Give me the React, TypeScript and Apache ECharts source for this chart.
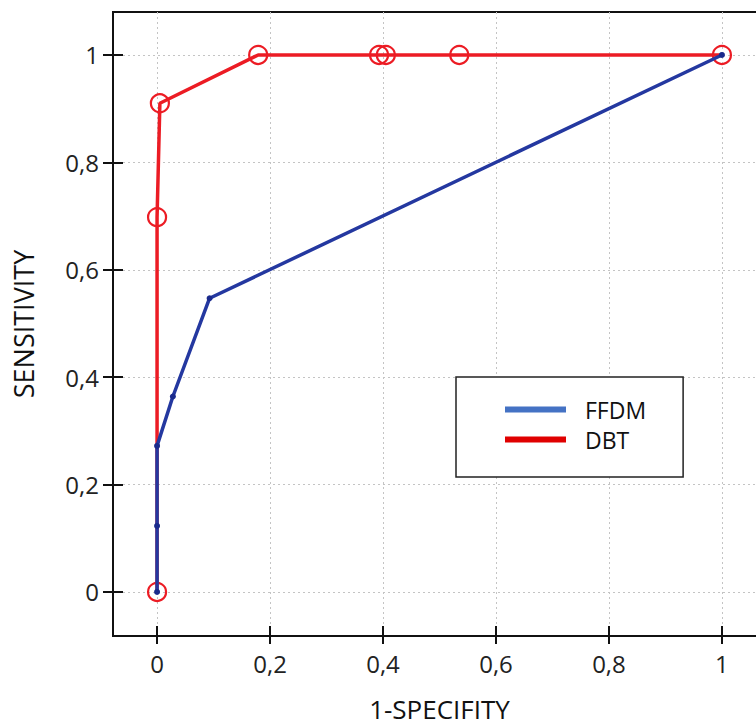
import React, { useEffect, useRef } from "react";
import * as echarts from "echarts";

const X_TICKS = [0, 0.2, 0.4, 0.6, 0.8, 1];
const Y_TICKS = [0, 0.2, 0.4, 0.6, 0.8, 1];
const FFDM_X = [0, 0, 0, 0.028, 0.093, 1];
const FFDM_Y = [0, 0.123, 0.272, 0.364, 0.547, 1];
const DBT_X = [0, 0, 0.005, 0.179, 0.393, 0.405, 0.535, 1];
const DBT_Y = [0, 0.698, 0.91, 1, 1, 1, 1, 1];

const FONT = "'Open Sans', 'Noto Sans', sans-serif";
const fmt = (v: number) => String(v).replace(".", ",");

export default function App() {
  const ref = useRef<HTMLDivElement>(null);
  useEffect(() => {
    if (!ref.current) return;
    const chart = echarts.init(ref.current, null, { renderer: "svg" });
    const X_MIN = -0.078, X_MAX = 1.078, Y_MIN = -0.082, Y_MAX = 1.08;
    const grid = "#c4c4c4";
    const baseX = {
      type: "value" as const,
      min: X_MIN,
      max: X_MAX,
      position: "bottom" as const,
    };
    const baseY = {
      type: "value" as const,
      min: Y_MIN,
      max: Y_MAX,
      position: "left" as const,
    };
    chart.setOption({
      animation: false,
      backgroundColor: "#ffffff",
      grid: {
        left: 113,
        top: 12,
        right: -10,
        bottom: 90,
        outerBoundsMode: "none",
        containLabel: false,
        show: true,
        borderColor: "#111",
        borderWidth: 2,
        backgroundColor: "transparent",
      },
      xAxis: [
        {
          ...baseX,
          name: "1-SPECIFITY",
          nameLocation: "middle",
          nameGap: 59,
          nameTextStyle: { fontFamily: FONT, fontSize: 26, lineHeight: 28, color: "#111" },
          axisLine: { onZero: false, lineStyle: { color: "#111", width: 2 } },
          axisTick: { customValues: X_TICKS, length: 8, lineStyle: { color: "#111", width: 2 } },
          axisLabel: {
            customValues: X_TICKS,
            formatter: fmt,
            margin: 15,
            fontFamily: FONT,
            fontSize: 24,
            lineHeight: 24,
            color: "#222",
          },
          splitLine: { show: true, lineStyle: { color: grid, type: [2, 3], width: 1 } },
        },
        {
          ...baseX,
          axisLine: { show: false, onZero: false },
          axisTick: { inside: true, customValues: X_TICKS, length: 10, lineStyle: { color: "#111", width: 2 } },
          axisLabel: { show: false },
          splitLine: { show: false },
        },
      ],
      yAxis: [
        {
          ...baseY,
          name: "SENSITIVITY",
          nameLocation: "middle",
          nameGap: 76,
          nameTextStyle: { fontFamily: FONT, fontSize: 27, color: "#111" },
          axisLine: { onZero: false, lineStyle: { color: "#111", width: 2 } },
          axisTick: { customValues: Y_TICKS, length: 10, lineStyle: { color: "#111", width: 2 } },
          axisLabel: {
            customValues: Y_TICKS,
            formatter: fmt,
            margin: 14,
            fontFamily: FONT,
            fontSize: 24,
            color: "#222",
          },
          splitLine: { show: true, lineStyle: { color: grid, type: [2, 3], width: 1 } },
        },
        {
          ...baseY,
          axisLine: { show: false, onZero: false },
          axisTick: { inside: true, customValues: Y_TICKS, length: 10, lineStyle: { color: "#111", width: 2 } },
          axisLabel: { show: false },
          splitLine: { show: false },
        },
      ],
      legend: {
        orient: "vertical",
        left: 456,
        top: 377,
        padding: [21, 37, 26, 49],
        itemGap: 7,
        itemWidth: 61,
        itemHeight: 6,
        icon: "rect",
        borderColor: "#222",
        borderWidth: 1.5,
        backgroundColor: "#fff",
        textStyle: {
          fontFamily: FONT,
          fontSize: 23,
          lineHeight: 23,
          color: "#111",
          padding: [0, 0, 0, 14],
        },
        data: [
          { name: "FFDM", itemStyle: { color: "#4472c4", borderWidth: 0 } },
          { name: "DBT", itemStyle: { color: "#e00000", borderWidth: 0 } },
        ],
      },
      series: [
        {
          name: "DBT",
          type: "line",
          xAxisIndex: 0,
          yAxisIndex: 0,
          data: DBT_X.map((x, i) => [x, DBT_Y[i]]),
          symbol: "circle",
          symbolSize: 18,
          showAllSymbol: true,
          lineStyle: { color: "#ec1c24", width: 3.5 },
          itemStyle: { color: "rgba(0,0,0,0)", borderColor: "#ec1c24", borderWidth: 2.2 },
          z: 2,
        },
        {
          name: "FFDM",
          type: "line",
          xAxisIndex: 0,
          yAxisIndex: 0,
          data: FFDM_X.map((x, i) => [x, FFDM_Y[i]]),
          symbol: "circle",
          symbolSize: 6,
          showAllSymbol: true,
          lineStyle: { color: "#2438a0", width: 3.5 },
          itemStyle: { color: "#1a2a8c", borderWidth: 0 },
          z: 3,
        },
      ],
    });
    return () => chart.dispose();
  }, []);
  return (
    <div
      ref={ref}
      style={{ position: "absolute", left: 0, top: 0, width: 756, height: 726 }}
    />
  );
}
